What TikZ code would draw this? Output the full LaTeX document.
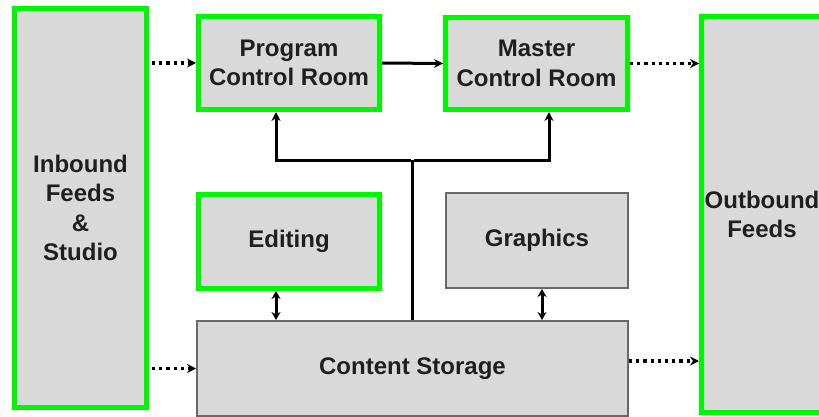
\documentclass[tikz,border=0pt]{standalone}
\usepackage{fontspec}
\setmainfont{Liberation Sans}
\usetikzlibrary{arrows.meta}
\definecolor{boxfill}{RGB}{217,217,217}
\definecolor{hilite}{RGB}{0,245,0}
\definecolor{edgegray}{RGB}{105,105,105}
\tikzset{
  base/.style={fill=boxfill, align=center, inner sep=0pt,
    font=\fontsize{24}{29.5}\selectfont\bfseries, text=black!88},
  greenbox/.style={base, draw=hilite, line width=5pt},
  graybox/.style={base, draw=edgegray, line width=2pt},
  link/.style={line width=3pt, -{Stealth[length=9pt,width=9pt]}},
  duplex/.style={line width=3pt, {Stealth[length=8pt,width=9pt]}-{Stealth[length=8pt,width=9pt]}},
  feed/.style={line width=3.2pt, dash pattern=on 3.2pt off 4pt,
    -{Stealth[length=9pt,width=9pt]}}
}
\begin{document}
\begin{tikzpicture}[x=1pt,y=-1pt]
\useasboundingbox (0,0) rectangle (819,417);
\clip (0,0) rectangle (819,417);
\fill[white] (0,0) rectangle (819,417);

% blocks
\node[greenbox, minimum width=132pt, minimum height=399pt] (in) at (80.5,208) {Inbound\\Feeds\\\&\\Studio};
\node[greenbox, minimum width=181pt, minimum height=93pt] (pcr) at (289,63) {Program\\Control Room};
\node[greenbox, minimum width=182pt, minimum height=92pt] (mcr) at (536.5,63.5) {Master\\Control Room};
\node[greenbox, minimum width=121pt, minimum height=396pt] (out) at (762,214.5) {Outbound\\Feeds};
\node[greenbox, minimum width=181pt, minimum height=94pt] (edit) at (289,241.5) {Editing};
\node[graybox, minimum width=182pt, minimum height=95pt] (gfx) at (537,240.5) {Graphics};
\node[graybox, minimum width=431pt, minimum height=95pt] (store) at (412.5,368.5) {Content Storage};

% signal flow between control rooms
\draw[link] (pcr.east) -- (mcr.west);

% external feeds
\draw[feed] ([xshift=3pt]in.east |- pcr.west) -- (pcr.west);
\draw[feed] ([xshift=3pt]in.east |- store.west) -- (store.west);
\draw[feed] (mcr.east) -- (mcr.east -| out.west);
\coordinate (storeout) at ([yshift=7.5pt]store.east);
\draw[feed] (storeout) -- (storeout -| out.west);

% storage bus up to both control rooms
\coordinate (bus) at (store.north |- 0,160);
\draw[line width=3pt] (store.north) -- (bus);
\draw[link] ([xshift=-1.5pt]bus) -| ([xshift=-13pt]pcr.south);
\draw[link] ([xshift=1.5pt]bus) -| ([xshift=12.5pt]mcr.south);

% editing and graphics exchange with storage
\draw[duplex] ([xshift=-13pt]edit.south) -- ([xshift=-13pt]edit.south |- store.north);
\draw[duplex] ([xshift=5pt]gfx.south) -- ([xshift=5pt]gfx.south |- store.north);
\end{tikzpicture}
\end{document}
